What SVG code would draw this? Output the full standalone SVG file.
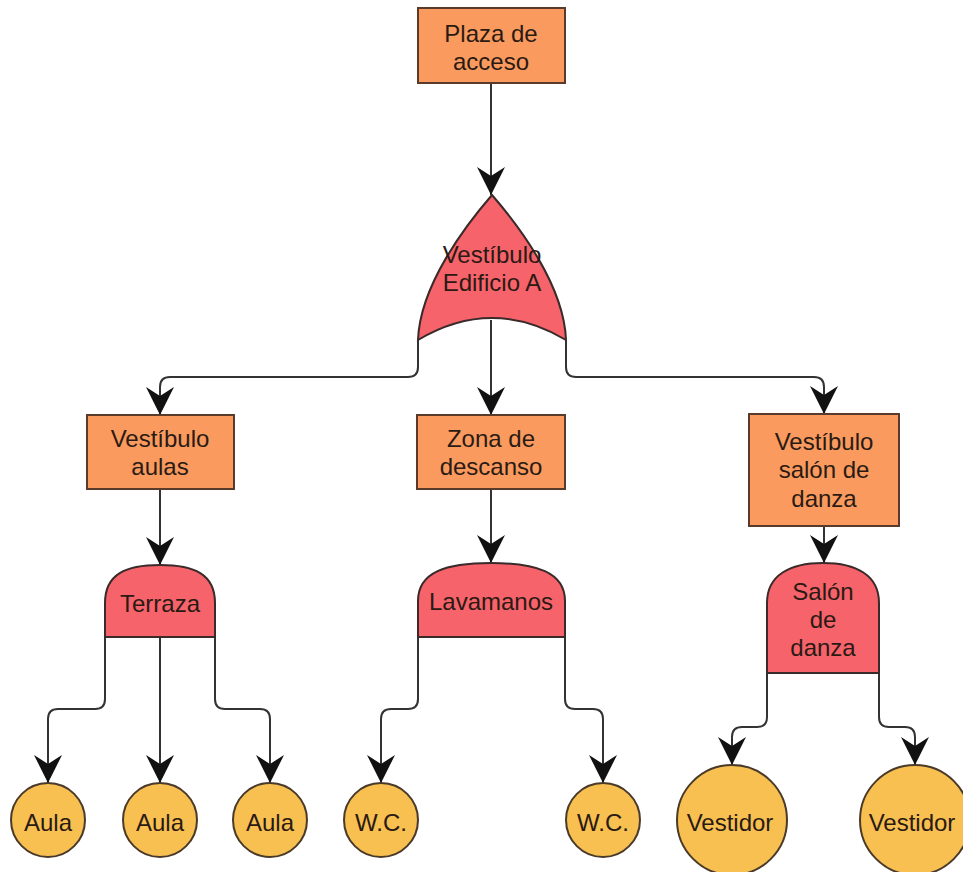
<svg xmlns="http://www.w3.org/2000/svg" width="963" height="872" viewBox="0 0 963 872">
<defs>
<marker id="arr" markerUnits="userSpaceOnUse" markerWidth="30" markerHeight="30" viewBox="0 0 30 30" refX="28" refY="15" orient="auto">
<path d="M28,15 L0,1 L9,15 L0,29 Z" fill="#111"/>
</marker>
<style>
.box{fill:#FA9A5E;stroke:#5a3a2a;stroke-width:2}
.gate{fill:#F7636A;stroke:#3a2a2a;stroke-width:2}
.circ{fill:#F8C050;stroke:#4a3a2a;stroke-width:2}
.edge{fill:none;stroke:#333;stroke-width:2;marker-end:url(#arr)}
text{font-family:"Liberation Sans",Arial,sans-serif;font-size:24px;fill:#2a1a14;text-anchor:middle;dominant-baseline:central}
</style>
</defs>
<rect width="963" height="872" fill="#fff"/>
<g id="connectors">
<path class="edge" d="M491,83 L491,195"/>
<path class="edge" d="M418,340 L418,367 Q418,377 408,377 L170,377 Q160,377 160,387 L160,415"/>
<path class="edge" d="M491,320 L491,415"/>
<path class="edge" d="M566,340 L566,367 Q566,377 576,377 L814,377 Q824,377 824,387 L824,414"/>
<path class="edge" d="M160,489 L160,565"/>
<path class="edge" d="M491,489 L491,563"/>
<path class="edge" d="M824,526 L824,563"/>
<path class="edge" d="M105,637 L105,699 Q105,709 95,709 L58,709 Q48,709 48,719 L48,783"/>
<path class="edge" d="M160,637 L160,783"/>
<path class="edge" d="M215,637 L215,699 Q215,709 225,709 L260,709 Q270,709 270,719 L270,783"/>
<path class="edge" d="M418,637 L418,699 Q418,709 408,709 L391,709 Q381,709 381,719 L381,783"/>
<path class="edge" d="M565,637 L565,699 Q565,709 575,709 L593,709 Q603,709 603,719 L603,783"/>
<path class="edge" d="M767,673 L767,717 Q767,727 757,727 L742,727 Q732,727 732,737 L732,765"/>
<path class="edge" d="M879,673 L879,717 Q879,727 889,727 L905,727 Q915,727 915,737 L915,765"/>
</g>
<g id="plaza">
<rect class="box" x="418" y="8" width="147" height="75"/>
<text x="491" y="33">Plaza de</text>
<text x="491" y="61">acceso</text>
</g>
<g id="vestibulo-a">
<path class="gate" d="M492,195 C466,225 420,285 418,340 Q492,296 566,340 C564,285 518,225 492,195 Z"/>
<text x="492" y="254">Vestíbulo</text>
<text x="492" y="282">Edificio A</text>
</g>
<g id="vestibulo-aulas">
<rect class="box" x="87" y="415" width="147" height="74"/>
<text x="160" y="438">Vestíbulo</text>
<text x="160" y="466">aulas</text>
</g>
<g id="zona-descanso">
<rect class="box" x="417" y="415" width="148" height="74"/>
<text x="491" y="438">Zona de</text>
<text x="491" y="466">descanso</text>
</g>
<g id="vestibulo-salon">
<rect class="box" x="749" y="414" width="150" height="112"/>
<text x="824" y="441">Vestíbulo</text>
<text x="824" y="469">salón de</text>
<text x="824" y="498">danza</text>
</g>
<g id="terraza">
<path class="gate" d="M105,637 L105,603 C105,574 126,565 160,565 C194,565 215,574 215,603 L215,637 Z"/>
<text x="160" y="603">Terraza</text>
</g>
<g id="lavamanos">
<path class="gate" d="M418,637 L418,601 C418,572 446,563 491,563 C536,563 565,572 565,601 L565,637 Z"/>
<text x="491" y="601">Lavamanos</text>
</g>
<g id="salon-danza">
<path class="gate" d="M767,673 L767,603 C767,575 790,563 823,563 C856,563 879,575 879,603 L879,673 Z"/>
<text x="823" y="591">Salón</text>
<text x="823" y="619">de</text>
<text x="823" y="647">danza</text>
</g>
<g id="aula1"><circle class="circ" cx="48" cy="820" r="37"/><text x="48" y="822">Aula</text></g>
<g id="aula2"><circle class="circ" cx="160" cy="820" r="37"/><text x="160" y="822">Aula</text></g>
<g id="aula3"><circle class="circ" cx="270" cy="820" r="37"/><text x="270" y="822">Aula</text></g>
<g id="wc1"><circle class="circ" cx="381" cy="820" r="37"/><text x="381" y="822">W.C.</text></g>
<g id="wc2"><circle class="circ" cx="603" cy="820" r="37"/><text x="603" y="822">W.C.</text></g>
<g id="vestidor1"><circle class="circ" cx="732" cy="820" r="55"/><text x="730" y="822">Vestidor</text></g>
<g id="vestidor2"><circle class="circ" cx="915" cy="820" r="55"/><text x="912" y="822">Vestidor</text></g>
</svg>
